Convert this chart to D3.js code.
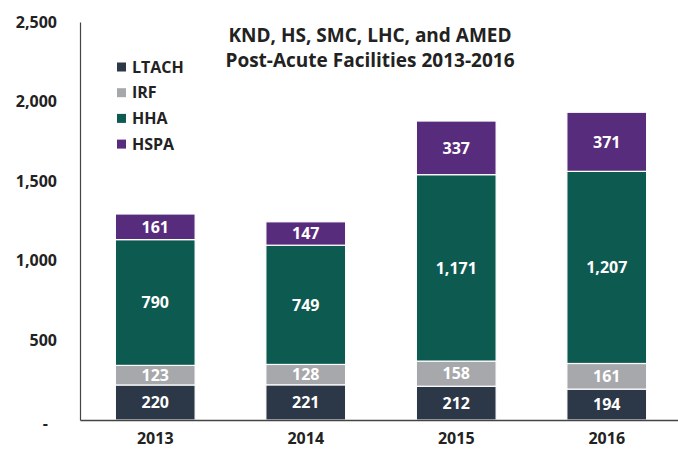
<!DOCTYPE html>
<html>
<head>
<meta charset="utf-8">
<script src="https://cdn.jsdelivr.net/npm/d3@7"></script>
<style>
  html, body { margin: 0; padding: 0; background: #fff; }
  svg text { font-family: "Open Sans", Lato, sans-serif; font-weight: bold; }
</style>
</head>
<body>
<svg id="chart" width="678" height="451"></svg>
<script>
// barras apiladas de instalaciones post-agudas por año

var years = ["2013", "2014", "2015", "2016"];
var series = ["LTACH", "IRF", "HHA", "HSPA"];
var ltach = [220, 221, 212, 194];
var irf = [123, 128, 158, 161];
var hha = [790, 749, 1171, 1207];
var hspa = [161, 147, 337, 371];
var yTicks = [0, 500, 1000, 1500, 2000, 2500];
var titleLines = ["KND, HS, SMC, LHC, and AMED", "Post-Acute Facilities 2013-2016"];

(function () {
  var FUENTE = "'Open Sans', Lato, sans-serif";
  var colors = { LTACH: "#2c3847", IRF: "#a7a8ab", HHA: "#0d5a50", HSPA: "#582c7c" };

  var rows = years.map(function (yr, i) {
    return { year: yr, LTACH: ltach[i], IRF: irf[i], HHA: hha[i], HSPA: hspa[i] };
  });

  var svg = d3.select("#chart");
  var izq = 80, der = 682, arriba = 22, abajo = 420;

  var x = d3.scaleBand().domain(years).range([izq, der]).paddingInner(0.47).paddingOuter(0.235);
  var y = d3.scaleLinear().domain([0, 2500]).range([abajo, arriba]);

  var stack = d3.stack().keys(series)(rows);

  var g = svg.append("g");
  stack.forEach(function (layer) {
    var k = layer.key;
    var grp = g.append("g");
    grp.selectAll("rect").data(layer).enter().append("rect")
      .attr("x", function (d) { return x(d.data.year); })
      .attr("width", x.bandwidth())
      .attr("y", function (d) { return y(d[1]); })
      .attr("height", function (d) { return y(d[0]) - y(d[1]); })
      .attr("fill", colors[k])
      .attr("stroke", "#fff")
      .attr("stroke-width", 1.2);
    grp.selectAll("text").data(layer).enter().append("text")
      .attr("x", function (d) { return x(d.data.year) + x.bandwidth() / 2; })
      .attr("y", function (d) { return (y(d[0]) + y(d[1])) / 2; })
      .attr("dy", "0.36em")
      .attr("text-anchor", "middle")
      .attr("fill", "#fff")
      .attr("font-size", 16)
      .text(function (d) { return d3.format(",")(d.data[k]); });
  });

  // ejes
  var yAxis = d3.axisLeft(y).tickValues(yTicks).tickSize(0).tickPadding(23)
    .tickFormat(function (v) { return v === 0 ? "-" : d3.format(",")(v); });
  var ya = svg.append("g").attr("transform", "translate(" + izq + ",0)").call(yAxis);
  ya.select(".domain").attr("stroke", "#444").attr("stroke-width", 1.2);
  ya.selectAll("text").attr("font-size", 16).attr("fill", "#222")
    .attr("font-family", FUENTE).attr("font-weight", "bold");
  // el guion del cero queda corrido a la izquierda como en excel
  ya.selectAll(".tick").filter(function (v) { return v === 0; }).select("text")
    .attr("dx", -9).attr("dy", "0.55em");

  var xAxis = d3.axisBottom(x).tickSize(0).tickPadding(13);
  var xa = svg.append("g").attr("transform", "translate(0," + abajo + ")").call(xAxis);
  xa.select(".domain").attr("stroke", "#444").attr("stroke-width", 1.5);
  xa.selectAll("text").attr("font-size", 16).attr("fill", "#222")
    .attr("font-family", FUENTE).attr("font-weight", "bold");

  // titulo
  svg.append("g").selectAll("text").data(titleLines).enter().append("text")
    .attr("x", 370)
    .attr("y", function (d, i) { return 35 + i * 25; })
    .attr("dy", "0.36em")
    .attr("text-anchor", "middle")
    .attr("font-size", 19)
    .attr("fill", "#222")
    .text(function (d) { return d; });

  // leyenda
  var leg = svg.append("g").selectAll("g").data(series).enter().append("g")
    .attr("transform", function (d, i) { return "translate(117," + (67 + i * 25.7) + ")"; });
  leg.append("rect").attr("x", 0).attr("y", -4.5).attr("width", 9).attr("height", 9)
    .attr("fill", function (d) { return colors[d]; });
  leg.append("text").attr("x", 15).attr("dy", "0.36em").attr("font-size", 16).attr("fill", "#222")
    .text(function (d) { return d; });
})();
</script>
</body>
</html>
